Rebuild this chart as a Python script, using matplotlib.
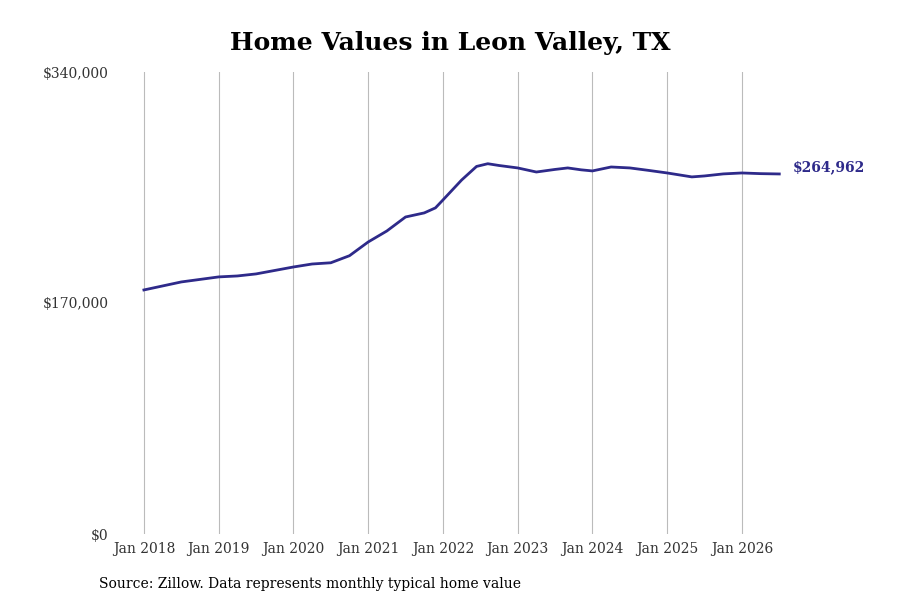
import matplotlib
matplotlib.use("Agg")
import matplotlib.pyplot as plt

# decimal year, typical home value ($)
years = [2018.0, 2018.5, 2019.0, 2019.25, 2019.5, 2020.0, 2020.25, 2020.5, 2020.75,
         2021.0, 2021.25, 2021.5, 2021.75, 2021.9, 2022.0, 2022.25, 2022.45, 2022.6,
         2022.75, 2023.0, 2023.25, 2023.5, 2023.67, 2023.85, 2024.0, 2024.25, 2024.5,
         2024.75, 2025.0, 2025.33, 2025.5, 2025.75, 2026.0, 2026.25, 2026.5]
values = [179600, 185500, 189200, 189900, 191400, 196500, 198700, 199600, 204800,
          214900, 223000, 233300, 236300, 240000, 245800, 260500, 270500, 272500,
          271200, 269400, 266400, 268300, 269400, 268000, 267200, 270100, 269400,
          267600, 265700, 262800, 263500, 265000, 265700, 265200, 264962]
tick_years = list(range(2018, 2027))
tick_labels = [f"Jan {y}" for y in tick_years]
y_ticks = [0, 170000, 340000]
y_labels = ["$0", "$170,000", "$340,000"]

LINE = "#2e2a8a"
plt.rcParams["font.family"] = "DejaVu Serif"

fig = plt.figure(figsize=(9, 6), dpi=100)
ax = fig.add_axes([0.13, 0.11, 0.75, 0.77])
ax.plot(years, values, color=LINE, lw=2)
ax.set_xlim(2017.64, 2026.67)
ax.set_ylim(0, 340000)
ax.set_xticks(tick_years, tick_labels, fontsize=10, color="#333333")
ax.set_yticks(y_ticks, y_labels, fontsize=10, color="#333333")
ax.grid(axis="x", color="#bbbbbb", lw=0.8)
ax.tick_params(length=0, pad=6)
for s in ax.spines.values():
    s.set_visible(False)
ax.text(years[-1] + 0.18, values[-1], f"${values[-1]:,}", color=LINE,
        fontsize=10, fontweight="bold", va="bottom", ha="left", clip_on=False)
fig.suptitle("Home Values in Leon Valley, TX", fontsize=18, fontweight="bold", y=0.948)
fig.text(0.11, 0.02, "Source: Zillow. Data represents monthly typical home value",
         fontsize=10)
fig.savefig("out.png", dpi=100)
